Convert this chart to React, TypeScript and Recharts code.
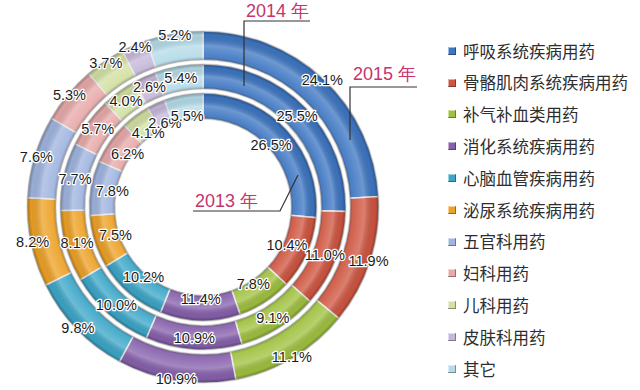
import React from 'react';
import { PieChart, Pie, Cell, Legend } from 'recharts';

const categories = [
  '呼吸系统疾病用药',
  '骨骼肌肉系统疾病用药',
  '补气补血类用药',
  '消化系统疾病用药',
  '心脑血管疾病用药',
  '泌尿系统疾病用药',
  '五官科用药',
  '妇科用药',
  '儿科用药',
  '皮肤科用药',
  '其它',
];
const share2013 = [26.5, 10.4, 7.8, 11.4, 10.2, 7.5, 7.8, 6.2, 4.1, 2.6, 5.5];
const share2014 = [25.5, 11.0, 9.1, 10.9, 10.0, 8.1, 7.7, 5.7, 4.0, 2.6, 5.4];
const share2015 = [24.1, 11.9, 11.1, 10.9, 9.8, 8.2, 7.6, 5.3, 3.7, 2.4, 5.2];
const yearLabels = ['2013 年', '2014 年', '2015 年'];

const colors = [
  '#3d76c2',
  '#cf5540',
  '#9fc13e',
  '#8660ac',
  '#3ba6c8',
  '#eda125',
  '#9fb4df',
  '#e8a9a9',
  '#d2e0a2',
  '#c5b7d9',
  '#b3dbe8',
];

const CX = 203;
const CY = 207;
const RMAX = 176;
const RADIAN = Math.PI / 180;

// label radius offset measured from each ring's inner edge
const rings = [
  { key: 'y2013', values: share2013, inner: 88, outer: 114, labelShift: 4 },
  { key: 'y2014', values: share2014, inner: 118, outer: 143, labelShift: 13 },
  { key: 'y2015', values: share2015, inner: 147, outer: 176, labelShift: 27 },
];

const font = '"Liberation Sans", Arial, sans-serif';

function makeLabel(shift: number) {
  return (props: any) => {
    const { cx, cy, midAngle, innerRadius, value } = props;
    const r = innerRadius + shift;
    const x = cx + r * Math.cos(-midAngle * RADIAN);
    const y = cy + r * Math.sin(-midAngle * RADIAN);
    return (
      <text
        x={x}
        y={y}
        textAnchor="middle"
        dominantBaseline="central"
        fontSize={14.5}
        fontFamily={font}
        fill="#1c1c1c"
        stroke="#ffffff"
        strokeWidth={2.5}
        paintOrder="stroke"
        strokeLinejoin="round"
      >
        {`${Number(value).toFixed(1)}%`}
      </text>
    );
  };
}

function LegendList() {
  return (
    <div style={{ fontFamily: '"Noto Sans CJK SC", sans-serif' }}>
      {categories.map((c, i) => (
        <div key={c} style={{ display: 'flex', alignItems: 'center', height: 31.8 }}>
          <span
            style={{
              width: 8,
              height: 8,
              background: colors[i],
              boxShadow: 'inset -1px -1px 0 rgba(0,0,0,0.35), inset 1px 1px 0 rgba(255,255,255,0.5)',
              marginRight: 7,
              flex: 'none',
            }}
          />
          <span style={{ fontSize: 16.5, color: '#2e2e2e', whiteSpace: 'nowrap', lineHeight: 1 }}>{c}</span>
        </div>
      ))}
    </div>
  );
}

export default function App() {
  return (
    <div style={{ position: 'absolute', left: 0, top: 0, width: 640, height: 390, background: '#fff' }}>
      <PieChart width={640} height={390} margin={{ top: 0, right: 0, bottom: 0, left: 0 }}>
        <defs>
          {rings.map((ring) => {
            const a = ring.inner / RMAX;
            const b = ring.outer / RMAX;
            const m = (a + b) / 2;
            return (
              <radialGradient key={ring.key} id={`bevel-${ring.key}`} cx={CX} cy={CY} r={RMAX} gradientUnits="userSpaceOnUse">
                <stop offset={a} stopColor="#000" stopOpacity={0.3} />
                <stop offset={a + 4 / RMAX} stopColor="#fff" stopOpacity={0.08} />
                <stop offset={m} stopColor="#fff" stopOpacity={0.25} />
                <stop offset={b - 4 / RMAX} stopColor="#000" stopOpacity={0.04} />
                <stop offset={b} stopColor="#000" stopOpacity={0.32} />
              </radialGradient>
            );
          })}
        </defs>
        {rings.map((ring) => (
          <Pie
            key={ring.key}
            data={ring.values.map((v, i) => ({ name: categories[i], value: v }))}
            dataKey="value"
            cx={CX}
            cy={CY}
            innerRadius={ring.inner}
            outerRadius={ring.outer}
            startAngle={90}
            endAngle={-270}
            stroke="#e6e6e6"
            strokeWidth={1.5}
            isAnimationActive={false}
            legendType="none"
          >
            {ring.values.map((_, i) => (
              <Cell key={i} fill={colors[i]} />
            ))}
          </Pie>
        ))}
        {rings.map((ring) => (
          <Pie
            key={`${ring.key}-shade`}
            data={ring.values.map((v, i) => ({ name: categories[i], value: v }))}
            dataKey="value"
            cx={CX}
            cy={CY}
            innerRadius={ring.inner}
            outerRadius={ring.outer}
            startAngle={90}
            endAngle={-270}
            fill={`url(#bevel-${ring.key})`}
            stroke="none"
            labelLine={false}
            label={makeLabel(ring.labelShift)}
            isAnimationActive={false}
            legendType="none"
          />
        ))}
        <Legend
          layout="vertical"
          verticalAlign="top"
          align="right"
          content={() => <LegendList />}
          wrapperStyle={{ left: 448, top: 35, width: 190 }}
        />
      </PieChart>
      <svg width={640} height={390} style={{ position: 'absolute', left: 0, top: 0, pointerEvents: 'none' }}>
        <g fill="#c7336b" fontSize={18} fontFamily={font}>
          <text x={195} y={207}>{yearLabels[0]}</text>
          <text x={246} y={17}>{yearLabels[1]}</text>
          <text x={353} y={80}>{yearLabels[2]}</text>
        </g>
        <g stroke="#333" strokeWidth={1.2} fill="none">
          <polyline points="193,211 280,211 298,175" />
          <polyline points="310,21 244,21 244,86" />
          <polyline points="417,87 350,87 350,140" />
        </g>
      </svg>
    </div>
  );
}
